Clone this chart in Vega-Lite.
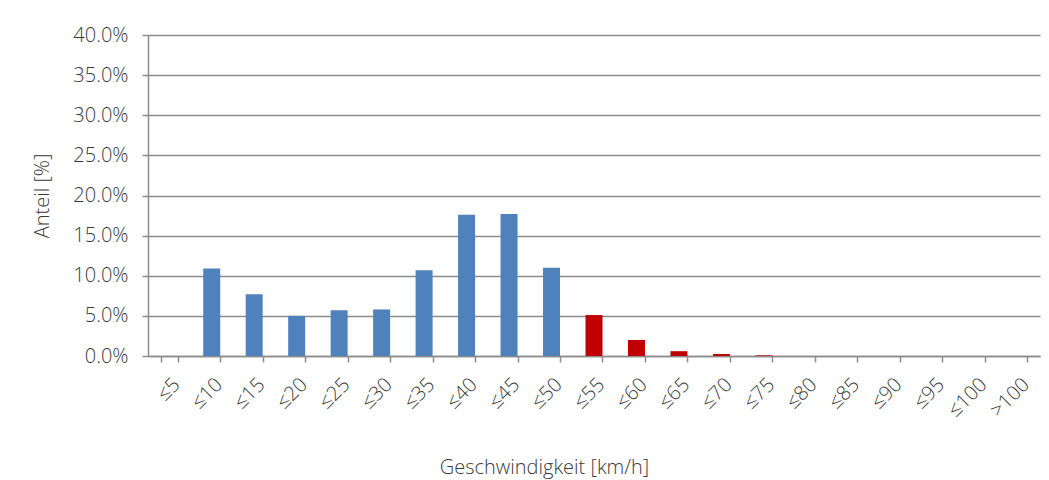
{
  "$schema": "https://vega.github.io/schema/vega-lite/v6.json",
  "autosize": "none",
  "padding": {"left": 148, "top": 35, "right": 9, "bottom": 124},
  "width": 892,
  "height": 321,
  "background": "white",
  "config": {
    "font": "Open Sans",
    "view": {"stroke": null},
    "axis": {
      "labelFont": "Open Sans",
      "titleFont": "Open Sans",
      "labelColor": "#3a3a3a",
      "titleColor": "#3a3a3a",
      "labelFontSize": 20,
      "titleFontSize": 20,
      "labelFontWeight": 300,
      "titleFontWeight": 300,
      "domainColor": "#8c8c8c",
      "tickColor": "#8c8c8c",
      "gridColor": "#8c8c8c",
      "domainWidth": 1.5,
      "tickWidth": 1.5,
      "gridWidth": 1.5
    }
  },
  "data": {
    "values": [
      {"kat": "≤5", "anteil": 0.0, "gruppe": "a"},
      {"kat": "≤10", "anteil": 10.9, "gruppe": "a"},
      {"kat": "≤15", "anteil": 7.7, "gruppe": "a"},
      {"kat": "≤20", "anteil": 5.0, "gruppe": "a"},
      {"kat": "≤25", "anteil": 5.7, "gruppe": "a"},
      {"kat": "≤30", "anteil": 5.8, "gruppe": "a"},
      {"kat": "≤35", "anteil": 10.7, "gruppe": "a"},
      {"kat": "≤40", "anteil": 17.6, "gruppe": "a"},
      {"kat": "≤45", "anteil": 17.7, "gruppe": "a"},
      {"kat": "≤50", "anteil": 11.0, "gruppe": "a"},
      {"kat": "≤55", "anteil": 5.1, "gruppe": "b"},
      {"kat": "≤60", "anteil": 2.0, "gruppe": "b"},
      {"kat": "≤65", "anteil": 0.6, "gruppe": "b"},
      {"kat": "≤70", "anteil": 0.25, "gruppe": "b"},
      {"kat": "≤75", "anteil": 0.08, "gruppe": "b"},
      {"kat": "≤80", "anteil": 0.0, "gruppe": "b"},
      {"kat": "≤85", "anteil": 0.0, "gruppe": "b"},
      {"kat": "≤90", "anteil": 0.0, "gruppe": "b"},
      {"kat": "≤95", "anteil": 0.0, "gruppe": "b"},
      {"kat": "≤100", "anteil": 0.0, "gruppe": "b"},
      {"kat": ">100", "anteil": 0.0, "gruppe": "b"}
    ]
  },
  "mark": {"type": "bar"},
  "encoding": {
    "x": {
      "field": "kat",
      "type": "nominal",
      "sort": null,
      "scale": {"paddingInner": 0.6, "paddingOuter": 0.3},
      "axis": {
        "title": "Geschwindigkeit [km/h]",
        "labelAngle": -45,
        "labelAlign": "right",
        "labelBaseline": "top",
        "labelPadding": 12,
        "labelOffset": 0,
        "tickBand": "extent",
        "tickSize": 6,
        "grid": false,
        "titleX": 396,
        "titleAlign": "center",
        "titleY": 117,
        "titleBaseline": "alphabetic"
      }
    },
    "y": {
      "field": "anteil",
      "type": "quantitative",
      "scale": {"domain": [0, 40]},
      "axis": {
        "title": "Anteil [%]",
        "values": [0, 5, 10, 15, 20, 25, 30, 35, 40],
        "labelExpr": "format(datum.value, '.1f') + '%'",
        "tickSize": 6,
        "labelPadding": 14,
        "titlePadding": 20,
        "grid": true
      }
    },
    "color": {
      "field": "gruppe",
      "type": "nominal",
      "scale": {"domain": ["a", "b"], "range": ["#4F81BD", "#C00000"]},
      "legend": null
    }
  }
}
